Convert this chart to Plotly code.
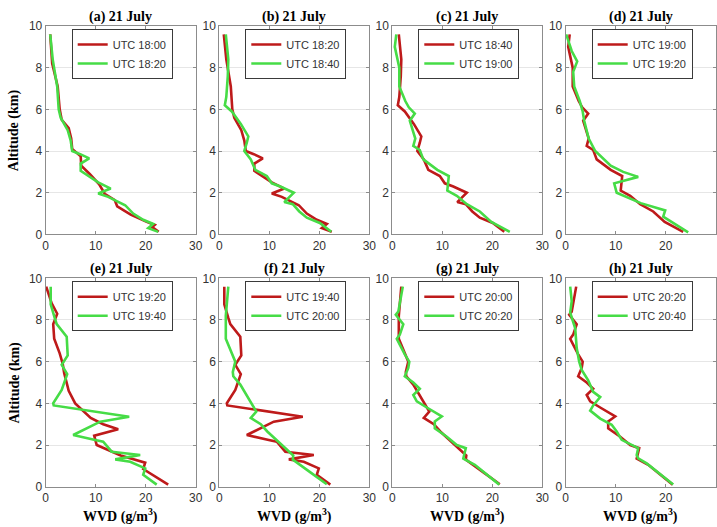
import plotly.graph_objects as go

# ---------------- data (WVD profiles, g/m^3 vs altitude km) ----------------
alt_1800 = [9.6, 8.2, 7.1, 6.0, 5.5, 5.1, 4.6, 4.1, 3.75, 3.3, 2.9, 2.4, 1.95, 1.65, 1.35, 0.95, 0.6, 0.45, 0.35, 0.13]
wvd_1800 = [0.9, 1.3, 2.4, 2.8, 3.2, 4.6, 5.1, 5.3, 7.0, 7.1, 8.8, 10.7, 11.8, 13.8, 14.3, 17.0, 20.2, 21.8, 21.3, 22.6]

alt_1820 = [9.6, 8.4, 7.1, 6.0, 5.6, 5.0, 4.5, 4.0, 3.85, 3.65, 3.4, 3.05, 2.5, 2.2, 1.96, 1.8, 1.4, 1.0, 0.7, 0.5, 0.3, 0.12]
wvd_1820 = [0.9, 1.4, 2.3, 2.6, 3.0, 4.4, 5.0, 5.3, 6.9, 8.7, 7.0, 7.0, 10.5, 13.0, 10.5, 12.5, 15.9, 17.5, 19.5, 21.5, 20.5, 22.5]

alt_1840 = [9.6, 8.4, 7.6, 6.6, 6.2, 5.9, 5.3, 4.7, 4.4, 4.0, 3.6, 3.1, 2.8, 2.45, 2.3, 2.0, 1.55, 1.45, 1.1, 0.8, 0.55, 0.13]
wvd_1840 = [1.3, 1.8, 1.7, 1.4, 1.1, 2.5, 4.3, 5.8, 5.5, 5.0, 6.3, 7.2, 9.5, 10.5, 12.2, 14.9, 13.0, 14.7, 16.0, 17.5, 20.1, 22.4]

alt_1900 = [9.6, 9.0, 8.0, 7.1, 6.4, 6.1, 5.8, 5.45, 4.6, 4.25, 4.05, 3.6, 3.1, 2.8, 2.1, 1.85, 1.45, 1.1, 0.6, 0.12]
wvd_1900 = [0.8, 0.5, 1.4, 1.4, 2.6, 3.3, 4.5, 3.5, 4.6, 4.2, 5.5, 6.2, 9.0, 11.3, 11.0, 12.9, 14.9, 17.5, 19.8, 23.5]

alt_1920 = [9.6, 8.8, 8.3, 7.8, 7.1, 6.4, 5.9, 5.45, 4.6, 4.0, 3.3, 3.0, 2.76, 2.6, 2.45, 2.0, 1.5, 1.15, 0.85, 0.1]
wvd_1920 = [0.1, 1.2, 2.3, 1.5, 1.7, 2.8, 3.4, 3.7, 4.6, 5.9, 9.0, 11.5, 14.5, 12.0, 9.7, 10.2, 15.0, 19.9, 19.5, 24.5]

alt_1940 = [9.6, 8.75, 8.1, 7.8, 7.2, 6.3, 5.85, 5.4, 4.64, 4.0, 3.9, 3.36, 3.12, 2.48, 2.24, 2.16, 1.68, 1.52, 1.31, 1.2, 0.88, 0.57, 0.1]
wvd_1940 = [1.0, 1.0, 1.8, 2.2, 4.2, 4.4, 3.2, 4.3, 3.2, 1.5, 1.6, 16.7, 10.9, 5.5, 9.9, 11.5, 13.2, 18.9, 13.9, 16.9, 19.9, 19.5, 22.2]

alt_2000 = [9.6, 8.2, 7.1, 6.6, 6.0, 5.5, 5.3, 4.9, 4.4, 3.85, 3.6, 3.3, 3.0, 2.65, 2.05, 1.5, 1.3, 1.0, 0.64, 0.12]
wvd_2000 = [1.8, 1.3, 1.3, 2.2, 3.2, 2.7, 2.8, 4.2, 5.4, 6.8, 7.4, 6.3, 8.3, 9.6, 12.3, 14.8, 14.7, 16.5, 18.5, 21.5]

alt_2020 = [9.6, 8.4, 8.25, 7.8, 7.3, 7.1, 6.35, 6.0, 5.7, 5.3, 5.0, 4.7, 4.4, 4.1, 3.8, 3.37, 3.13, 2.8, 2.4, 2.0, 1.85, 1.35, 1.05, 0.1]
wvd_2020 = [2.1, 1.2, 0.7, 2.2, 1.5, 0.9, 2.5, 3.4, 3.2, 2.5, 4.2, 5.5, 4.2, 4.9, 6.9, 9.9, 8.5, 8.5, 10.9, 12.9, 14.7, 14.2, 16.5, 21.4]

alt_2040 = [9.6, 8.9, 8.35, 7.6, 6.65, 6.0, 5.6, 5.1, 4.55, 4.3, 3.9, 3.65, 3.27, 2.97, 2.65, 2.25, 1.85, 1.52, 1.36, 1.12, 0.11]
wvd_2040 = [0.9, 1.2, 0.9, 1.9, 2.2, 2.7, 3.2, 4.5, 5.5, 6.9, 5.5, 4.9, 6.9, 9.2, 10.2, 11.2, 14.5, 14.2, 14.5, 16.2, 21.5]

profiles = {
    "18:00": (alt_1800, wvd_1800),
    "18:20": (alt_1820, wvd_1820),
    "18:40": (alt_1840, wvd_1840),
    "19:00": (alt_1900, wvd_1900),
    "19:20": (alt_1920, wvd_1920),
    "19:40": (alt_1940, wvd_1940),
    "20:00": (alt_2000, wvd_2000),
    "20:20": (alt_2020, wvd_2020),
    "20:40": (alt_2040, wvd_2040),
}

panel_titles = ["(a) 21 July", "(b) 21 July", "(c) 21 July", "(d) 21 July",
                "(e) 21 July", "(f) 21 July", "(g) 21 July", "(h) 21 July"]
panel_pairs = [("18:00", "18:20"), ("18:20", "18:40"), ("18:40", "19:00"), ("19:00", "19:20"),
               ("19:20", "19:40"), ("19:40", "20:00"), ("20:00", "20:20"), ("20:20", "20:40")]

x_ticks = [0, 10, 20, 30]
y_ticks = [0, 2, 4, 6, 8, 10]

# ---------------- layout geometry ----------------
W, H = 717, 527
col_left_px = [45.7, 219.3, 392.3, 565.7]
panel_w_px = 150.0
row_top_px = [26.0, 278.3]
panel_h_px = 208.4

RED = "#BE1A1A"
GREEN = "#46DC46"
SERIF = "Liberation Serif, Times New Roman, serif"
SANS = "Liberation Sans, Arial, sans-serif"
TXT = "#333333"
AXC = "#8C8C8C"

fig = go.Figure()
layout = dict(
    width=W, height=H, margin=dict(l=0, r=0, t=0, b=0),
    paper_bgcolor="white", plot_bgcolor="white", showlegend=True,
)
annotations = []

for i, (title, (t1, t2)) in enumerate(zip(panel_titles, panel_pairs)):
    r, c = divmod(i, 4)
    k = i + 1
    xn = "x" if k == 1 else f"x{k}"
    yn = "y" if k == 1 else f"y{k}"
    ln = "legend" if k == 1 else f"legend{k}"
    left = col_left_px[c]
    top = row_top_px[r]
    x0, x1 = left / W, (left + panel_w_px) / W
    y1 = 1 - top / H
    y0 = 1 - (top + panel_h_px) / H

    for t, col in ((t1, RED), (t2, GREEN)):
        a, v = profiles[t]
        fig.add_trace(go.Scatter(
            x=v, y=a, mode="lines", name=f"UTC {t}",
            line=dict(color=col, width=2.6), xaxis=xn, yaxis=yn, legend=ln,
        ))

    layout["xaxis" if k == 1 else f"xaxis{k}"] = dict(
        domain=[x0, x1], anchor=yn, range=[0, 30], tickvals=x_ticks,
        showgrid=False, zeroline=False, showline=True, linecolor=AXC, linewidth=1,
        mirror="ticks", ticks="inside", ticklen=3, tickcolor=AXC,
        tickfont=dict(family=SANS, size=12, color=TXT), automargin=False,
    )
    layout["yaxis" if k == 1 else f"yaxis{k}"] = dict(
        domain=[y0, y1], anchor=xn, range=[0, 10], tickvals=y_ticks,
        showgrid=True, gridcolor="#E6E6E6", gridwidth=1, zeroline=False,
        showline=True, linecolor=AXC, linewidth=1,
        mirror="ticks", ticks="inside", ticklen=3, tickcolor=AXC,
        tickfont=dict(family=SANS, size=12, color=TXT), automargin=False,
    )
    layout[ln] = dict(
        x=(left + 26) / W, y=1 - (top + 3) / H, xanchor="left", yanchor="top",
        bgcolor="white", bordercolor="#3A3A3A", borderwidth=1,
        font=dict(family=SANS, size=11, color=TXT), itemwidth=30,
        tracegroupgap=0,
    )
    annotations.append(dict(
        text=f"<b>{title}</b>", x=(x0 + x1) / 2, y=y1, xref="paper", yref="paper",
        xanchor="center", yanchor="bottom", yshift=-1, showarrow=False,
        font=dict(family=SERIF, size=14, color="black"),
    ))
    if c == 0:
        annotations.append(dict(
            text="<b>Altitude (km)</b>", x=14 / W, y=(y0 + y1) / 2, xref="paper", yref="paper",
            xanchor="center", yanchor="middle", textangle=-90, showarrow=False,
            font=dict(family=SERIF, size=14, color="black"),
        ))
    if r == 1:
        annotations.append(dict(
            text="<b>WVD (g/m<sup>3</sup>)</b>", x=(x0 + x1) / 2, y=1 - 515 / H,
            xref="paper", yref="paper", xanchor="center", yanchor="middle", showarrow=False,
            font=dict(family=SERIF, size=14, color="black"),
        ))

layout["annotations"] = annotations
fig.update_layout(**layout)
fig.write_html(
    "out.html",
    config={"displayModeBar": False},
    post_script="document.body.style.margin='0';document.body.style.padding='0';document.body.style.overflow='hidden';",
)
